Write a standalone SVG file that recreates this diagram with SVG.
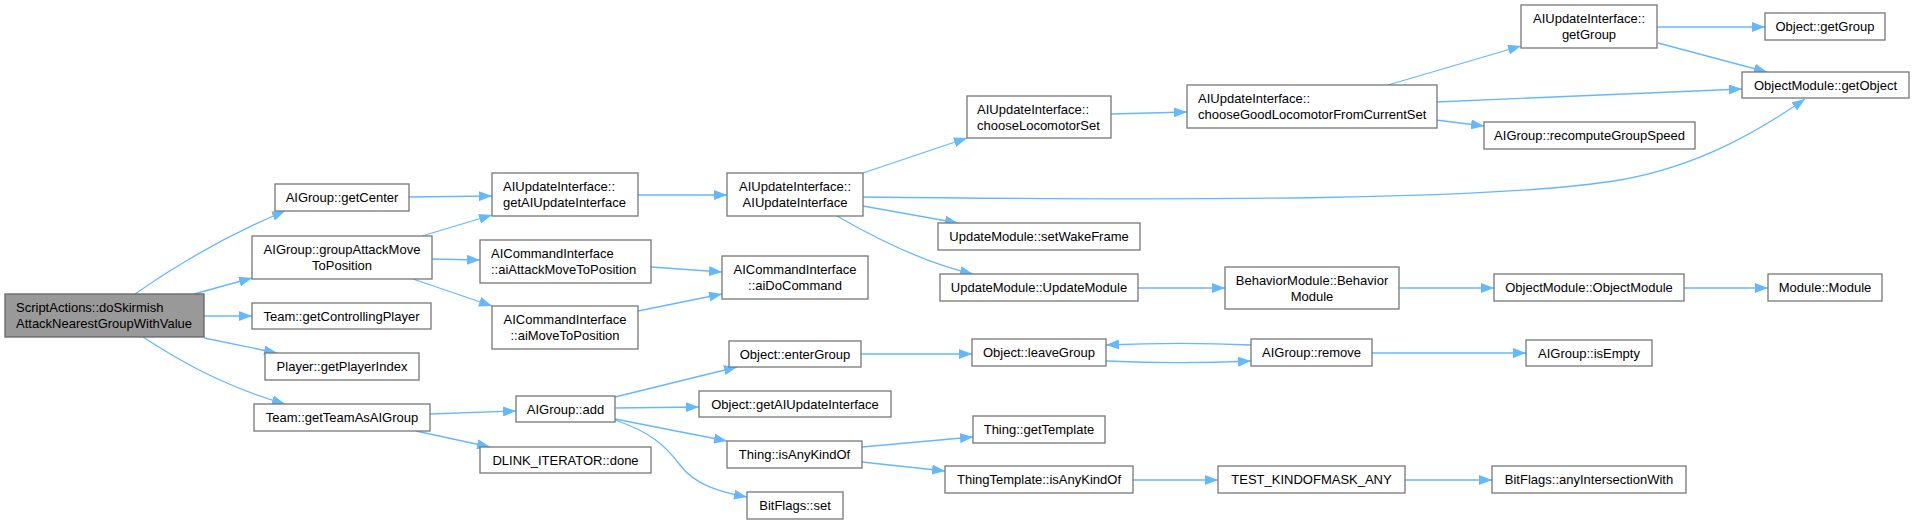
<svg xmlns="http://www.w3.org/2000/svg" width="1913" height="524" viewBox="0 0 1913 524">
<style>
.n rect{fill:#ffffff;stroke:#777777;stroke-width:1.3}
.root rect{fill:#999999;stroke:#666666;stroke-width:1.3}
text{font-family:"Liberation Sans",Arial,sans-serif;font-size:13px;fill:#000000}
.c{text-anchor:middle}
.e path{fill:none;stroke:#63b8ff;stroke-width:1.3;marker-end:url(#ah)}
</style>
<defs>
<marker id="ah" viewBox="0 0 13 10" refX="13" refY="5" markerWidth="13" markerHeight="10" markerUnits="userSpaceOnUse" orient="auto">
<path d="M0,0 L13,5 L0,10 z" fill="#63b8ff"/>
</marker>
</defs>
<rect width="1913" height="524" fill="#ffffff"/>
<g id="connectors" class="e">
<path d="M135,294 C175,266 225,236 285,211"/>
<path d="M194,294 L252,278"/>
<path d="M204,316 L252,316"/>
<path d="M204,338 L277,353"/>
<path d="M143,337 C175,358 220,385 285,404"/>
<path d="M409,197 L492,196"/>
<path d="M422,236 L492,215"/>
<path d="M432,259 L480,260"/>
<path d="M413,279 L492,306"/>
<path d="M638,195 L727,195"/>
<path d="M651,267 L722,272"/>
<path d="M638,311 L722,294"/>
<path d="M430,414 L516,411"/>
<path d="M416,431 L490,447"/>
<path d="M863,173 L967,138"/>
<path d="M863,197 C1200,201 1500,200 1620,180 C1700,166 1760,130 1805,99"/>
<path d="M863,206 L958,223"/>
<path d="M837,216 C875,238 925,263 973,274"/>
<path d="M1111,114 L1187,112"/>
<path d="M1388,85 L1521,46"/>
<path d="M1436,102 L1742,89"/>
<path d="M1436,120 L1484,126"/>
<path d="M1657,27 L1765,27"/>
<path d="M1658,43 L1767,72"/>
<path d="M1138,288 L1225,288"/>
<path d="M1399,288 L1494,288"/>
<path d="M1684,288 L1768,288"/>
<path d="M615,397 L737,367"/>
<path d="M615,408 L699,407"/>
<path d="M615,419 L727,441"/>
<path d="M615,420 C650,432 665,445 680,465 C695,485 720,492 747,497"/>
<path d="M861,354 L972,354"/>
<path d="M1106,361 C1150,363 1210,363 1251,361"/>
<path d="M1251,345 C1210,343 1150,343 1106,345"/>
<path d="M1372,353 L1526,353"/>
<path d="M862,447 L973,437"/>
<path d="M862,462 L945,471"/>
<path d="M1133,480 L1218,480"/>
<path d="M1405,480 L1492,480"/>
</g>
<g id="n_root" class="root"><rect x="5" y="294" width="199" height="43"/><text x="16" y="312">ScriptActions::doSkirmish</text><text x="16" y="328">AttackNearestGroupWithValue</text></g>
<g id="n_getCenter" class="n"><rect x="275" y="184" width="134" height="27"/><text class="c" x="342" y="202">AIGroup::getCenter</text></g>
<g id="n_groupAttackMove" class="n"><rect x="252" y="236" width="180" height="43"/><text class="c" x="342" y="254">AIGroup::groupAttackMove</text><text class="c" x="342" y="270">ToPosition</text></g>
<g id="n_getControllingPlayer" class="n"><rect x="252" y="303" width="179" height="26"/><text class="c" x="341.5" y="320.5">Team::getControllingPlayer</text></g>
<g id="n_getPlayerIndex" class="n"><rect x="265" y="353" width="154" height="27"/><text class="c" x="342" y="371">Player::getPlayerIndex</text></g>
<g id="n_getTeamAsAIGroup" class="n"><rect x="254" y="404" width="176" height="27"/><text class="c" x="342" y="422">Team::getTeamAsAIGroup</text></g>
<g id="n_getAIUpdateInterface" class="n"><rect x="492" y="173" width="146" height="43"/><text x="503" y="191">AIUpdateInterface::</text><text x="503" y="207">getAIUpdateInterface</text></g>
<g id="n_aiAttackMove" class="n"><rect x="480" y="240" width="171" height="43"/><text x="491" y="258">AICommandInterface</text><text x="491" y="274">::aiAttackMoveToPosition</text></g>
<g id="n_aiMoveToPosition" class="n"><rect x="492" y="306" width="146" height="43"/><text class="c" x="565" y="324">AICommandInterface</text><text class="c" x="565" y="340">::aiMoveToPosition</text></g>
<g id="n_add" class="n"><rect x="516" y="396" width="99" height="26"/><text class="c" x="565.5" y="413.5">AIGroup::add</text></g>
<g id="n_dlinkDone" class="n"><rect x="480" y="447" width="171" height="26"/><text class="c" x="565.5" y="464.5">DLINK_ITERATOR::done</text></g>
<g id="n_AIUpdateInterfaceCtor" class="n"><rect x="727" y="173" width="136" height="43"/><text class="c" x="795" y="191">AIUpdateInterface::</text><text class="c" x="795" y="207">AIUpdateInterface</text></g>
<g id="n_aiDoCommand" class="n"><rect x="722" y="256" width="146" height="43"/><text class="c" x="795" y="274">AICommandInterface</text><text class="c" x="795" y="290">::aiDoCommand</text></g>
<g id="n_enterGroup" class="n"><rect x="729" y="341" width="132" height="26"/><text class="c" x="795" y="358.5">Object::enterGroup</text></g>
<g id="n_objGetAIUpdateInterface" class="n"><rect x="699" y="391" width="192" height="26"/><text class="c" x="795" y="408.5">Object::getAIUpdateInterface</text></g>
<g id="n_thingIsAnyKindOf" class="n"><rect x="727" y="441" width="135" height="27"/><text class="c" x="794.5" y="459">Thing::isAnyKindOf</text></g>
<g id="n_bitFlagsSet" class="n"><rect x="747" y="492" width="96" height="27"/><text class="c" x="795" y="510">BitFlags::set</text></g>
<g id="n_chooseLocomotorSet" class="n"><rect x="967" y="96" width="144" height="42"/><text x="977" y="113.5">AIUpdateInterface::</text><text x="977" y="129.5">chooseLocomotorSet</text></g>
<g id="n_setWakeFrame" class="n"><rect x="938" y="223" width="202" height="27"/><text class="c" x="1039" y="241">UpdateModule::setWakeFrame</text></g>
<g id="n_UpdateModule" class="n"><rect x="940" y="274" width="198" height="27"/><text class="c" x="1039" y="292">UpdateModule::UpdateModule</text></g>
<g id="n_leaveGroup" class="n"><rect x="972" y="339" width="134" height="27"/><text class="c" x="1039" y="357">Object::leaveGroup</text></g>
<g id="n_getTemplate" class="n"><rect x="973" y="416" width="132" height="27"/><text class="c" x="1039" y="434">Thing::getTemplate</text></g>
<g id="n_thingTemplateIsAnyKindOf" class="n"><rect x="945" y="466" width="188" height="27"/><text class="c" x="1039" y="484">ThingTemplate::isAnyKindOf</text></g>
<g id="n_chooseGood" class="n"><rect x="1187" y="85" width="250" height="43"/><text x="1198" y="103">AIUpdateInterface::</text><text x="1198" y="119">chooseGoodLocomotorFromCurrentSet</text></g>
<g id="n_BehaviorModule" class="n"><rect x="1225" y="267" width="174" height="42"/><text class="c" x="1312" y="284.5">BehaviorModule::Behavior</text><text class="c" x="1312" y="300.5">Module</text></g>
<g id="n_remove" class="n"><rect x="1251" y="339" width="121" height="27"/><text class="c" x="1311.5" y="357">AIGroup::remove</text></g>
<g id="n_TEST" class="n"><rect x="1218" y="466" width="187" height="27"/><text class="c" x="1311.5" y="484">TEST_KINDOFMASK_ANY</text></g>
<g id="n_getGroup" class="n"><rect x="1521" y="5" width="136" height="43"/><text class="c" x="1589" y="23">AIUpdateInterface::</text><text class="c" x="1589" y="39">getGroup</text></g>
<g id="n_recompute" class="n"><rect x="1484" y="122" width="211" height="27"/><text class="c" x="1589.5" y="140">AIGroup::recomputeGroupSpeed</text></g>
<g id="n_ObjectModule" class="n"><rect x="1494" y="274" width="190" height="27"/><text class="c" x="1589" y="292">ObjectModule::ObjectModule</text></g>
<g id="n_isEmpty" class="n"><rect x="1526" y="340" width="126" height="26"/><text class="c" x="1589" y="357.5">AIGroup::isEmpty</text></g>
<g id="n_anyIntersectionWith" class="n"><rect x="1492" y="466" width="194" height="27"/><text class="c" x="1589" y="484">BitFlags::anyIntersectionWith</text></g>
<g id="n_objGetGroup" class="n"><rect x="1765" y="13" width="120" height="27"/><text class="c" x="1825" y="31">Object::getGroup</text></g>
<g id="n_getObject" class="n"><rect x="1742" y="72" width="167" height="26"/><text class="c" x="1825.5" y="89.5">ObjectModule::getObject</text></g>
<g id="n_Module" class="n"><rect x="1768" y="274" width="114" height="27"/><text class="c" x="1825" y="292">Module::Module</text></g>
</svg>
